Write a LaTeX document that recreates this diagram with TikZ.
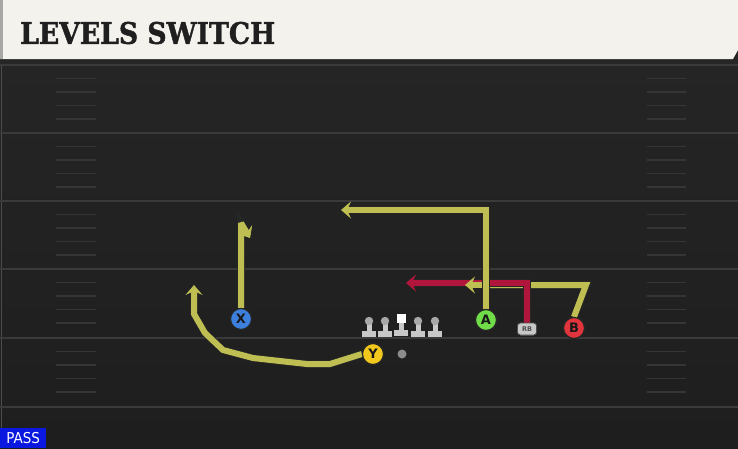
\documentclass[tikz,border=0pt]{standalone}
\usepackage{graphicx}
\usepackage{fontspec}
\setmainfont{DejaVu Sans}
\newfontfamily\titlefont{DejaVu Serif}[FakeBold=1.5]
\newfontfamily\passfont{DejaVu Sans Condensed}
\usetikzlibrary{arrows.meta}
\definecolor{fieldtop}{HTML}{262626}
\definecolor{fieldbot}{HTML}{1E1E1E}
\definecolor{fieldline}{HTML}{3A3A3A}
\definecolor{hashcol}{HTML}{353535}
\definecolor{headbg}{HTML}{F4F2EC}
\definecolor{routey}{HTML}{BEBE52}
\definecolor{router}{HTML}{B0163C}
\definecolor{plx}{HTML}{3C7FDC}
\definecolor{ply}{HTML}{F2C81C}
\definecolor{pla}{HTML}{6FDC48}
\definecolor{plb}{HTML}{E2343C}
\definecolor{passblue}{HTML}{0A18E0}
\definecolor{linegray}{HTML}{C8C8C8}
\definecolor{headgray}{HTML}{A8A8A8}
\tikzset{
  yardline/.style={draw=fieldline, line width=2pt},
  hashmark/.style={draw=hashcol, line width=1.4pt},
  player/.style={circle, draw=black!85, line width=1.2pt, minimum size=21pt, inner sep=0pt,
    font=\fontsize{13}{13}\selectfont\bfseries, text=black!90},
  rbbox/.style={fill=linegray, draw=black!70, line width=0.7pt, rounded corners=3pt,
    minimum width=19pt, minimum height=12pt, inner sep=0pt,
    font=\fontsize{6.5}{6.5}\selectfont\bfseries, text=black!70},
  route/.style={line width=6pt, line join=miter, line cap=butt,
    preaction={draw=black!85, line width=7.8pt}},
  yroute/.style={route, draw=routey},
  rroute/.style={route, draw=router},
  tip/.style={-{Stealth[length=10pt, width=17pt, inset=4pt, line width=0.6pt]}},
}
\begin{document}
\begin{tikzpicture}[x=1pt, y=-1pt]
\useasboundingbox (0,0) rectangle (738,448);
% field
\shade[top color=fieldtop, bottom color=fieldbot] (0,0) rectangle (738,448);
\draw[black!70, line width=1pt] (1.5,60) -- (1.5,448);
% yard lines
\foreach \yy in {65,133,201,269,338,407} {
  \draw[yardline] (0,\yy) -- (738,\yy);
}
\foreach \yy in {65,133,201,269,338} {
  \foreach \k in {1,2,3,4} {
    \draw[hashmark] (56,\yy+13.5*\k) -- (96,\yy+13.5*\k);
    \draw[hashmark] (647,\yy+13.5*\k) -- (686,\yy+13.5*\k);
  }
}
% header
\fill[black!85] (0,58) rectangle (738,64);
\fill[headbg] (0,0) -- (738,0) -- (738,50) -- (733,59) -- (0,59) -- cycle;
\fill[black!35] (0,0) rectangle (3,59);
\node[anchor=west, inner sep=0pt, text=black!88]
  (title) at (20,33) {\resizebox{255pt}{22pt}{\titlefont\bfseries LEVELS SWITCH}};
% pass tag
\node[fill=passblue, anchor=south west, inner sep=0pt, minimum width=46pt, minimum height=20pt,
  text=white, font=\passfont\fontsize{15}{15}\selectfont] (pass) at (0,448) {PASS};
% linemen
\foreach \xx in {369,385,418,435} {
  \fill[linegray] (\xx-7,330.5) rectangle (\xx+7,337);
  \fill[linegray] (\xx-2.5,322) rectangle (\xx+2.5,332);
  \fill[headgray] (\xx,321) circle (4.2);
}
\fill[linegray] (401-7,329.5) rectangle (401+7,336);
\fill[linegray] (401-2.5,321) rectangle (401+2.5,331);
\fill[white] (396.5,313.5) rectangle (405.5,322.5);
% ball / QB
\fill[black!45] (402,354) circle (4.5);
% coordinates
\coordinate (xt) at (241,223);
\coordinate (xe) at (250,238);
\coordinate (at) at (486,210);
\coordinate (ae) at (341,210);
\coordinate (bt) at (586,285);
\coordinate (bm) at (482,285);
\coordinate (be) at (465,285);
\coordinate (rt) at (527,283);
\coordinate (re) at (406,283);
\coordinate (y2) at (330,364);
\coordinate (y3) at (307,364);
\coordinate (y4) at (253,358);
\coordinate (y5) at (223,350);
\coordinate (y6) at (205,333);
\coordinate (y7) at (194,314);
\coordinate (ye) at (194,285);
% players
\node[rbbox] (rb) at (527,329) {RB};
\node[player, fill=plx] (X) at (241,319) {X};
\node[player, fill=ply] (Y) at (373,354) {Y};
\node[player, fill=pla] (A) at (486,320) {A};
\node[player, fill=plb] (B) at (574,328) {B};
% routes
\draw[yroute, tip, line join=bevel] (X.north) -- (xt) -- (xe);
\draw[yroute, tip] (Y.west) -- (y2) -- (y3) -- (y4) -- (y5) -- (y6) -- (y7) -- (ye);
\draw[yroute] (B.north) -- (bt) -- (bm);
\draw[rroute, tip] (rb.north) -- (rt) -- (re);
\draw[draw=routey, line width=6pt, tip] (bm) -- (be);
\draw[yroute, tip] (A.north) -- (at) -- (ae);
% players on top of routes
\node[player, fill=plx] at (X) {X};
\node[player, fill=ply] at (Y) {Y};
\node[player, fill=pla] at (A) {A};
\node[player, fill=plb] at (B) {B};
\node[rbbox] at (rb) {RB};
\end{tikzpicture}
\end{document}
